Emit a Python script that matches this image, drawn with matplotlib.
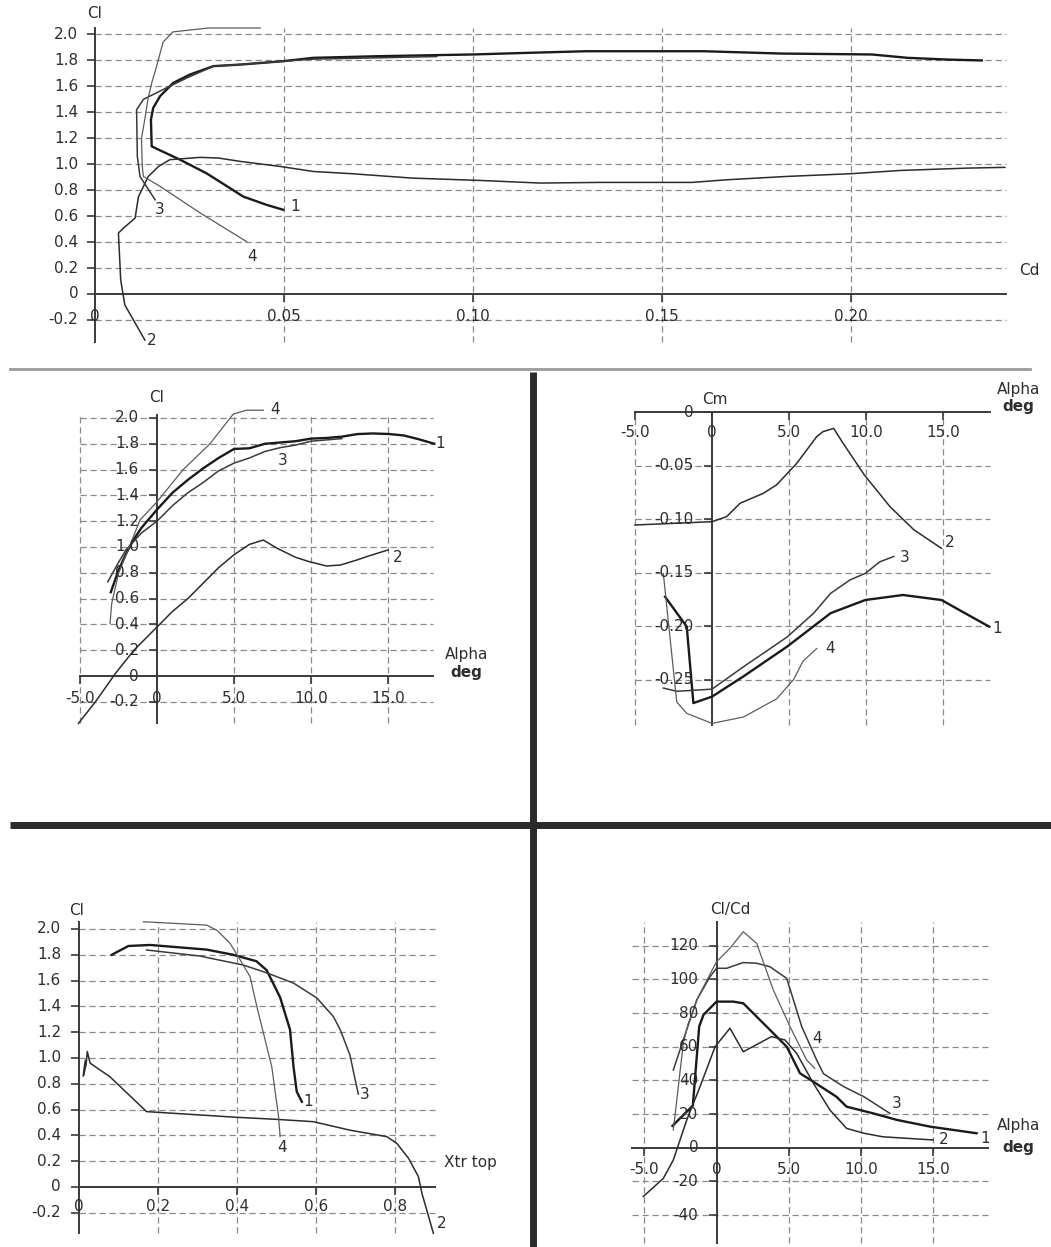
import matplotlib
matplotlib.use("Agg")
import matplotlib.pyplot as plt

W, H = 1051, 1247

# ---- Cl vs Cd (polar), curves 1..4
polar_cd_1 = [0.0498, 0.0454, 0.0392, 0.0357, 0.0295, 0.0225, 0.0172, 0.015, 0.0148, 0.0154, 0.0172,
              0.0207, 0.0251, 0.0313, 0.0384, 0.0497, 0.0577, 0.0754, 0.100, 0.115, 0.130, 0.161,
              0.1817, 0.2055, 0.215, 0.2253, 0.2346]
polar_cl_1 = [0.649, 0.687, 0.751, 0.816, 0.93, 1.035, 1.107, 1.138, 1.344, 1.434, 1.524,
              1.627, 1.691, 1.756, 1.768, 1.794, 1.82, 1.833, 1.846, 1.859, 1.871, 1.871,
              1.853, 1.846, 1.82, 1.807, 1.80]
polar_cd_2 = [0.0132, 0.0079, 0.0068, 0.0062, 0.0075, 0.0106, 0.0115, 0.0141, 0.0168, 0.0198, 0.0278,
              0.0326, 0.0384, 0.049, 0.0578, 0.068, 0.084, 0.102, 0.1177, 0.1336, 0.158, 0.167,
              0.183, 0.2, 0.213, 0.2306, 0.2407]
polar_cl_2 = [-0.355, -0.085, 0.108, 0.47, 0.507, 0.585, 0.75, 0.906, 0.983, 1.035, 1.053,
              1.048, 1.022, 0.983, 0.944, 0.927, 0.893, 0.875, 0.855, 0.86, 0.86, 0.88,
              0.906, 0.927, 0.952, 0.97, 0.976]
polar_cd_3 = [0.0159, 0.0119, 0.0112, 0.011, 0.0128, 0.019, 0.0243, 0.0313, 0.0437, 0.0498, 0.0577,
              0.075, 0.0904]
polar_cl_3 = [0.726, 0.906, 1.06, 1.42, 1.5, 1.59, 1.665, 1.755, 1.78, 1.794, 1.81,
              1.82, 1.83]
polar_cd_4 = [0.0401, 0.0278, 0.0172, 0.0128, 0.0125, 0.0123, 0.0132, 0.014, 0.015, 0.0163, 0.018,
              0.0206, 0.03, 0.0437]
polar_cl_4 = [0.404, 0.625, 0.83, 0.906, 0.983, 1.2, 1.35, 1.5, 1.627, 1.755, 1.94,
              2.02, 2.05, 2.05]

# ---- Cl vs Alpha
cl_alpha_1 = [-3.0, -2.5, -2.0, -1.5, -1.0, 0, 1, 2, 3, 4, 5, 6, 7, 8, 9, 10, 11, 12, 13, 14, 15, 16, 17, 18]
cl_val_1 = [0.65, 0.82, 0.95, 1.06, 1.15, 1.29, 1.42, 1.52, 1.61, 1.69, 1.76, 1.765, 1.80, 1.81, 1.82,
            1.84, 1.845, 1.855, 1.875, 1.88, 1.876, 1.865, 1.835, 1.80]
cl_alpha_2 = [-5.1, -4, -2.7, -1.5, 0, 1, 2, 3, 4, 5, 6, 6.9, 7.8, 9, 9.9, 11, 11.9, 13, 13.6, 15]
cl_val_2 = [-0.367, -0.2, 0.02, 0.2, 0.38, 0.5, 0.6, 0.72, 0.84, 0.94, 1.02, 1.054, 0.99, 0.92, 0.886,
            0.853, 0.86, 0.9, 0.925, 0.977]
cl_alpha_3 = [-3.2, -2.5, -2, -1, 0, 1, 2, 3, 4, 5, 6, 7, 8, 9, 10, 11, 12]
cl_val_3 = [0.73, 0.88, 0.98, 1.11, 1.2, 1.32, 1.42, 1.5, 1.59, 1.65, 1.69, 1.74, 1.77, 1.79, 1.82, 1.83, 1.84]
cl_alpha_4 = [-3.05, -2.94, -2.5, -1.97, -1.1, 0, 1.7, 3.44, 4.95, 5.8, 6.9]
cl_val_4 = [0.408, 0.563, 0.795, 0.95, 1.21, 1.35, 1.6, 1.80, 2.03, 2.06, 2.06]

# ---- Cm vs Alpha
cm_alpha_1 = [-3.05, -1.64, -1.21, 0, 2.05, 4.9, 7.7, 9.95, 12.4, 14.9, 16.3, 18.0]
cm_val_1 = [-0.1726, -0.2006, -0.272, -0.266, -0.247, -0.219, -0.188, -0.1757, -0.171, -0.1757, -0.187, -0.2006]
cm_alpha_2 = [-5, 0, 0.95, 1.82, 3.33, 4.2, 5.5, 6.8, 7.2, 7.9, 8.5, 9.9, 11.56, 13.1, 14.9]
cm_val_2 = [-0.1056, -0.1025, -0.0978, -0.0853, -0.076, -0.068, -0.048, -0.023, -0.0184, -0.0153,
            -0.029, -0.059, -0.0885, -0.110, -0.1274]
cm_alpha_3 = [-3.16, -2.29, 0, 2.05, 3.33, 4.9, 6.6, 7.7, 8.95, 9.95, 10.9, 11.8]
cm_val_3 = [-0.258, -0.261, -0.259, -0.238, -0.2255, -0.21, -0.188, -0.1695, -0.157, -0.1508, -0.14, -0.135]
cm_alpha_4 = [-3.16, -2.29, -1.64, 0, 2.05, 4.2, 5.3, 5.9, 6.8]
cm_val_4 = [-0.151, -0.271, -0.2816, -0.291, -0.285, -0.268, -0.25, -0.233, -0.221]

# ---- Cl vs Xtr top
xtr_x_1 = [0.083, 0.125, 0.18, 0.323, 0.39, 0.449, 0.475, 0.509, 0.534, 0.543, 0.551, 0.564]
xtr_cl_1 = [1.80, 1.868, 1.876, 1.84, 1.80, 1.75, 1.68, 1.47, 1.22, 0.93, 0.74, 0.66]
xtr_x_2 = [0.897, 0.868, 0.859, 0.834, 0.804, 0.779, 0.686, 0.593, 0.50, 0.399, 0.239, 0.171, 0.078,
           0.028, 0.021, 0.018, 0.011, 0.013, 0.016]
xtr_cl_2 = [-0.36, -0.05, 0.08, 0.222, 0.339, 0.39, 0.44, 0.506, 0.524, 0.54, 0.571, 0.584, 0.855,
            0.96, 1.05, 0.95, 0.86, 0.92, 0.98]
xtr_x_3 = [0.171, 0.306, 0.416, 0.475, 0.543, 0.602, 0.644, 0.661, 0.686, 0.699, 0.707]
xtr_cl_3 = [1.837, 1.79, 1.72, 1.66, 1.58, 1.465, 1.32, 1.22, 1.02, 0.83, 0.72]
xtr_x_4 = [0.163, 0.323, 0.349, 0.382, 0.408, 0.433, 0.45, 0.467, 0.488, 0.505, 0.509]
xtr_cl_4 = [2.056, 2.03, 1.99, 1.89, 1.76, 1.63, 1.40, 1.19, 0.93, 0.545, 0.39]

# ---- Cl/Cd vs Alpha
ld_alpha_1 = [-3.05, -1.64, -1.2, -0.9, 0, 1.16, 1.85, 3.7, 4.86, 5.78, 6.7, 8.3, 9.0, 10.85, 12.5, 14.8, 18.0]
ld_val_1 = [13, 25, 72, 79, 86.8, 86.8, 85.8, 70, 60, 44.2, 39.2, 30.3, 24.4, 20.4, 16.5, 12.5, 8.6]
ld_alpha_2 = [-5.07, -3.68, -2.99, -2.06, -1.14, -0.1, 0.93, 1.85, 3.8, 4.74, 5.55, 6.7, 7.85, 9.0,
              10.2, 11.5, 15]
ld_val_2 = [-29, -18.2, -7.3, 16.5, 36.3, 60, 71, 57, 66, 64, 56, 38.3, 22.4, 11.5, 8.6, 6.5, 4.6]
ld_alpha_3 = [-2.99, -2.3, -1.37, -0.45, 0, 0.7, 1.85, 2.78, 3.7, 4.86, 5.9, 6.93, 7.4, 8.8, 10.2, 12]
ld_val_3 = [46.2, 64, 87.8, 101.6, 106.6, 106.6, 110, 109.6, 107.5, 100.6, 71.9, 52.1, 44, 36.3, 30.3, 20.4]
ld_alpha_4 = [-2.99, -2.75, -2.3, -1.95, -1.26, 0, 0.93, 1.85, 2.78, 3.93, 5.09, 6.24, 6.8]
ld_val_4 = [10.5, 28.3, 62, 74, 89.7, 110.5, 118.5, 128.3, 121.4, 93.7, 71.9, 52.1, 47.2]

# tick labels
cl_ticks = [-0.2, 0, 0.2, 0.4, 0.6, 0.8, 1.0, 1.2, 1.4, 1.6, 1.8, 2.0]
cl_labels = ["-0.2", "0", "0.2", "0.4", "0.6", "0.8", "1.0", "1.2", "1.4", "1.6", "1.8", "2.0"]
cd_ticks = [0, 0.05, 0.10, 0.15, 0.20]
cd_labels = ["0", "0.05", "0.10", "0.15", "0.20"]
alpha_ticks = [-5, 0, 5, 10, 15]
alpha_labels = ["-5.0", "0", "5.0", "10.0", "15.0"]
cm_ticks = [0, -0.05, -0.10, -0.15, -0.20, -0.25]
cm_labels = ["0", "-0.05", "-0.10", "-0.15", "-0.20", "-0.25"]
xtr_ticks = [0, 0.2, 0.4, 0.6, 0.8]
xtr_labels = ["0", "0.2", "0.4", "0.6", "0.8"]
ld_ticks = [-40, -20, 0, 20, 40, 60, 80, 100, 120]
ld_labels = ["-40", "-20", "0", "20", "40", "60", "80", "100", "120"]

GRID = "#8a8a8a"
AXC = "#3a3a3a"
TXT = "#2e2e2e"
STYLES = {1: dict(color="#1a1a1a", lw=1.7),
          2: dict(color="#2c2c2c", lw=1.1),
          3: dict(color="#3a3a3a", lw=1.1),
          4: dict(color="#5c5c5c", lw=0.9)}
FS = 11

fig = plt.figure(figsize=(W / 100, H / 100), dpi=100)
fig.patch.set_facecolor("white")

# separators between the panels
bg = fig.add_axes([0, 0, 1, 1])
bg.set_xlim(0, W)
bg.set_ylim(H, 0)
bg.set_axis_off()
bg.plot([10, 1030], [369, 369], color="#9a9a9a", lw=2)
bg.plot([10, W], [825, 825], color="#2a2a2a", lw=5, solid_capstyle="butt")
bg.plot([533, 533], [372, H], color="#2a2a2a", lw=5, solid_capstyle="butt")


def make_panel(box, xlim, ylim, xgrid, ygrid):
    left, top, right, bottom = box
    ax = fig.add_axes([left / W, 1 - bottom / H, (right - left) / W, (bottom - top) / H])
    ax.set_xlim(xlim)
    ax.set_ylim(ylim)
    ax.set_axis_off()
    ax.vlines(xgrid, ylim[0], ylim[1], colors=GRID, lw=0.9, linestyles=(0, (5, 3)), clip_on=False)
    ax.hlines(ygrid, xlim[0], xlim[1], colors=GRID, lw=0.9, linestyles=(0, (5, 3)), clip_on=False)
    ax.plot(xlim, [0, 0], color=AXC, lw=1.4, clip_on=False)
    ax.plot([0, 0], ylim, color=AXC, lw=1.4, clip_on=False)
    return ax


def add_ticks(ax, xt, xl, yt, yl, xpad=16, ypad=13):
    ax.plot(xt, [0] * len(xt), ls="none", marker=3, ms=6, color=AXC, mew=1.2, clip_on=False)
    ax.plot([0] * len(yt), yt, ls="none", marker=0, ms=6, color=AXC, mew=1.2, clip_on=False)
    for x, lab in zip(xt, xl):
        ax.annotate(lab, (x, 0), xytext=(0, -xpad), textcoords="offset points",
                    ha="center", va="center", fontsize=FS, color=TXT)
    for y, lab in zip(yt, yl):
        ax.annotate(lab, (0, y), xytext=(-ypad, 0), textcoords="offset points",
                    ha="right", va="center", fontsize=FS, color=TXT)


def draw_curves(ax, series, labels):
    for k, (xs, ys) in series.items():
        ax.plot(xs, ys, clip_on=False, **STYLES[k])
    for k, (x, y) in labels.items():
        ax.text(x, y, str(k), ha="center", va="center", fontsize=FS, color=TXT)


# ---- top: Cl vs Cd
ax = make_panel((95, 28, 1006, 342), (0, 0.241), (-0.37, 2.05),
                cd_ticks[1:], [t for t in cl_ticks if t != 0])
add_ticks(ax, cd_ticks, cd_labels, cl_ticks, cl_labels, xpad=16, ypad=12)
draw_curves(ax, {1: (polar_cd_1, polar_cl_1), 2: (polar_cd_2, polar_cl_2),
                 3: (polar_cd_3, polar_cl_3), 4: (polar_cd_4, polar_cl_4)},
            {1: (0.0529, 0.672), 3: (0.0172, 0.649), 4: (0.0415, 0.286), 2: (0.0151, -0.355)})
ax.text(0, 2.162, "Cl", ha="center", va="center", fontsize=FS, color=TXT)
ax.text(0.2445, 0.178, "Cd", ha="left", va="center", fontsize=FS, color=TXT)

# ---- middle left: Cl vs Alpha
ax = make_panel((80, 415, 433, 723), (-5, 17.92), (-0.364, 2.023),
                [-5, 5, 10, 15], [t for t in cl_ticks if t != 0])
add_ticks(ax, alpha_ticks, alpha_labels, cl_ticks, cl_labels, xpad=16, ypad=13)
draw_curves(ax, {1: (cl_alpha_1, cl_val_1), 2: (cl_alpha_2, cl_val_2),
                 3: (cl_alpha_3, cl_val_3), 4: (cl_alpha_4, cl_val_4)},
            {1: (18.4, 1.806), 4: (7.66, 2.062), 3: (8.18, 1.674), 2: (15.6, 0.915)})
ax.text(0, 2.155, "Cl", ha="center", va="center", fontsize=FS, color=TXT)
ax.text(20.1, 0.165, "Alpha", ha="center", va="center", fontsize=FS, color=TXT)
ax.text(20.1, 0.025, "deg", ha="center", va="center", fontsize=FS, color=TXT, fontweight="bold")

# ---- middle right: Cm vs Alpha
ax = make_panel((635, 412, 990, 725), (-5, 18.05), (-0.2925, 0),
                [-5, 5, 10, 15], [t for t in cm_ticks if t != 0])
add_ticks(ax, alpha_ticks, alpha_labels, cm_ticks, cm_labels, xpad=15, ypad=13)
draw_curves(ax, {1: (cm_alpha_1, cm_val_1), 2: (cm_alpha_2, cm_val_2),
                 3: (cm_alpha_3, cm_val_3), 4: (cm_alpha_4, cm_val_4)},
            {2: (15.45, -0.1224), 3: (12.53, -0.1364), 1: (18.5, -0.2019), 4: (7.66, -0.2206)})
ax.text(0.2, 0.012, "Cm", ha="center", va="center", fontsize=FS, color=TXT)
ax.text(19.9, 0.0206, "Alpha", ha="center", va="center", fontsize=FS, color=TXT)
ax.text(19.9, 0.0056, "deg", ha="center", va="center", fontsize=FS, color=TXT, fontweight="bold")

# ---- bottom left: Cl vs Xtr top
ax = make_panel((79, 922, 435, 1233), (0, 0.901), (-0.357, 2.054),
                xtr_ticks[1:], [t for t in cl_ticks if t != 0])
add_ticks(ax, xtr_ticks, xtr_labels, cl_ticks, cl_labels, xpad=14, ypad=13)
draw_curves(ax, {1: (xtr_x_1, xtr_cl_1), 2: (xtr_x_2, xtr_cl_2),
                 3: (xtr_x_3, xtr_cl_3), 4: (xtr_x_4, xtr_cl_4)},
            {1: (0.58, 0.659), 3: (0.724, 0.713), 4: (0.514, 0.302), 2: (0.918, -0.281)})
ax.text(-0.005, 2.147, "Cl", ha="center", va="center", fontsize=FS, color=TXT)
ax.text(0.99, 0.186, "Xtr top", ha="center", va="center", fontsize=FS, color=TXT)

# ---- bottom right: Cl/Cd vs Alpha
ax = make_panel((632, 922, 988, 1243), (-5.85, 18.79), (-56.6, 134.1),
                [-5, 5, 10, 15], [t for t in ld_ticks if t != 0])
add_ticks(ax, alpha_ticks, alpha_labels, ld_ticks, ld_labels, xpad=16, ypad=13)
draw_curves(ax, {1: (ld_alpha_1, ld_val_1), 2: (ld_alpha_2, ld_val_2),
                 3: (ld_alpha_3, ld_val_3), 4: (ld_alpha_4, ld_val_4)},
            {4: (6.93, 65), 3: (12.47, 26.4), 2: (15.7, 4.6), 1: (18.58, 5.6)})
ax.text(0.93, 141.3, "Cl/Cd", ha="center", va="center", fontsize=FS, color=TXT)
ax.text(20.9, 13.5, "Alpha", ha="center", va="center", fontsize=FS, color=TXT)
ax.text(20.9, 0.4, "deg", ha="center", va="center", fontsize=FS, color=TXT, fontweight="bold")

fig.savefig("out.png", dpi=100, facecolor="white")
